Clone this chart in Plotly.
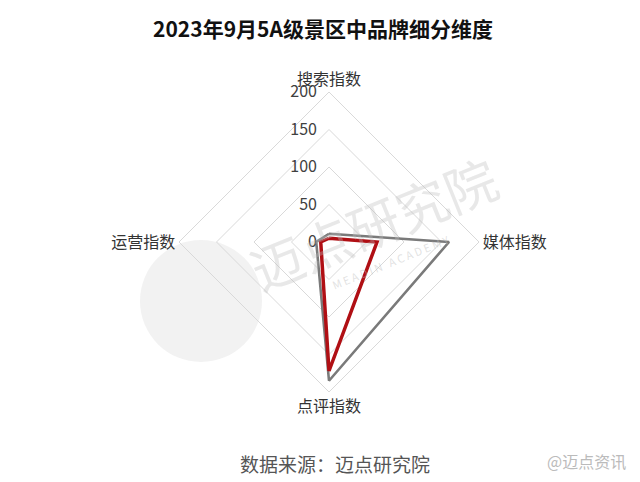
import plotly.graph_objects as go

title = "2023年9月5A级景区中品牌细分维度"
categories = ["搜索指数", "媒体指数", "点评指数", "运营指数"]
series_gray = [11, 160, 185, 17]
series_red = [5, 64, 172, 11]
tick_vals = [0, 50, 100, 150, 200]
source_text = "数据来源：迈点研究院"

FONT = "Noto Sans CJK SC"
W, H = 640, 482
OFF = 8  # page body margin


def px(x):
    return (x - OFF) / W


def py(y):
    return 1 - (y - OFF) / H


def closed(v):
    return list(v) + [v[0]]


fig = go.Figure()
fig.add_trace(go.Scatterpolar(
    r=closed(series_gray), theta=closed(categories), mode="lines",
    line=dict(color="#7a7a7a", width=2.6), showlegend=False))
fig.add_trace(go.Scatterpolar(
    r=closed(series_red), theta=closed(categories), mode="lines",
    line=dict(color="#b00f14", width=3.5), showlegend=False))

cx, cy, R = 329, 242, 150
fig.update_layout(
    width=W, height=H,
    margin=dict(l=0, r=0, t=0, b=0),
    paper_bgcolor="white",
    font=dict(family=FONT, color="#404040"),
    title=dict(text=f"<b>{title}</b>", x=px(323), xanchor="center", y=py(30), yanchor="middle",
               font=dict(size=21, color="#111111", family=FONT)),
    polar=dict(
        domain=dict(x=[px(cx - R), px(cx + R)],
                    y=[py(cy + R), py(cy - R)]),
        bgcolor="rgba(0,0,0,0)",
        gridshape="linear",
        radialaxis=dict(range=[0, 200], tickvals=tick_vals, angle=90, tickangle=90,
                        showline=False, gridcolor="#d9d9d9", gridwidth=1,
                        tickfont=dict(size=16, color="#404040"),
                        ticks="outside", ticklen=6, tickcolor="rgba(0,0,0,0)",
                        side="counterclockwise"),
        angularaxis=dict(direction="clockwise", rotation=90, showgrid=False,
                         showline=True, linecolor="#d9d9d9", linewidth=1,
                         ticks="", tickfont=dict(size=16, color="#333333")),
    ),
    shapes=[
        dict(type="circle", xref="paper", yref="paper",
             x0=px(140), x1=px(262), y0=py(362), y1=py(240),
             fillcolor="rgba(190,190,190,0.2)", line=dict(width=0), layer="below"),
    ],
    annotations=[
        dict(text=source_text, x=px(335), y=py(463), xref="paper", yref="paper",
             xanchor="center", yanchor="middle",
             showarrow=False, font=dict(size=19, color="#555555", family=FONT)),
        dict(text="迈点研究院", x=px(373), y=py(222), xref="paper", yref="paper",
             xanchor="center", yanchor="middle",
             showarrow=False, textangle=-22,
             font=dict(size=52, color="rgba(190,190,190,0.35)", family=FONT)),
        dict(text="M E A D I N   A C A D E M Y", x=px(390), y=py(262), xref="paper", yref="paper",
             xanchor="center", yanchor="middle",
             showarrow=False, textangle=-22,
             font=dict(size=11, color="rgba(190,190,190,0.45)", family=FONT)),
        dict(text="@迈点资讯", x=px(586), y=py(461), xref="paper", yref="paper",
             xanchor="center", yanchor="middle",
             showarrow=False, font=dict(size=16, color="#bbbbbb", family=FONT)),
    ],
)

fig.write_html("out.html")
